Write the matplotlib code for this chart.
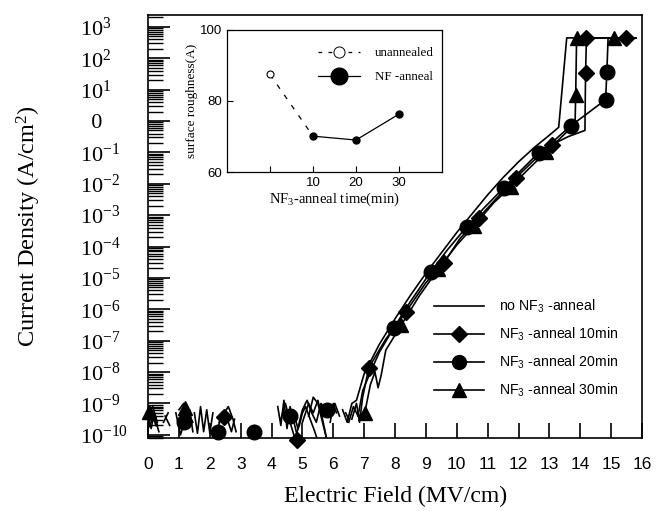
import numpy as np
import matplotlib
matplotlib.use('Agg')
import matplotlib.pyplot as plt
from matplotlib.lines import Line2D
from matplotlib.ticker import FixedLocator, FixedFormatter, LogLocator, NullFormatter

plt.rcParams['font.family'] = 'Liberation Serif'
plt.rcParams['mathtext.fontset'] = 'custom'
plt.rcParams['mathtext.rm'] = 'Liberation Serif'
plt.rcParams['mathtext.default'] = 'regular'

# ---- data (log10 of current density) ----
nan = np.nan
E_none = [0.0, 0.1, 0.2, 0.3, nan, 0.5, 0.65, nan, 1.5, 1.6, 1.7, 1.8, 1.9, 2.0, 2.1, nan,
          4.2, 4.3, 4.4, 4.5, 4.6, 4.7, 4.8, nan, 5.2, 5.35, 5.5, 5.65, 5.8, nan,
          6.3, 6.45, 6.6, 6.75, 7.0, 7.5, 8.0, 8.5, 9.0, 9.5, 10.0, 10.5, 11.0, 11.5,
          12.0, 12.5, 13.0, 13.3, 13.56, 15.8]
J_none = [-9.4, -9.8, -9.3, -9.7, nan, -9.6, -9.3, nan, -9.3, -9.95, -9.1, -9.9, -9.2, -9.95, -9.3, nan,
          -9.1, -9.7, -8.9, -9.8, -9.1, -9.5, -9.9, nan, -9.4, -8.8, -9.0, -9.6, -10.2, nan,
          -9.2, -9.6, -9.0, -8.9, -8.05, -7.1, -6.3, -5.55, -4.85, -4.2, -3.55, -2.95, -2.35, -1.8,
          -1.3, -0.85, -0.45, -0.2, 2.65, 2.65]

E_10 = [0.0, 0.1, 0.25, nan, 2.3, 2.45, 2.6, 2.7, 2.8, nan, 4.3, 4.45, 4.6, 4.75, 4.9, 5.0, 5.1,
        5.25, 5.4, 5.5, nan, 5.9, 6.0, 6.1, nan, 6.6, 6.75, 6.85, 6.95, 7.15, 7.7, 8.35, 9.0,
        9.58, 10.1, 10.71, 11.3, 11.91, 12.5, 13.07, 13.6, 14.15, 14.17, 14.2, 15.8]
J_10 = [-9.6, -9.2, -9.7, nan, -9.6, -9.3, -9.6, -9.9, -9.5, nan, -9.5, -9.0, -9.6, -10.1, -9.7, -9.3, -9.1,
        -9.5, -9.9, -10.2, nan, -9.6, -9.0, -9.3, nan, -9.5, -9.0, -9.6, -8.8, -7.86, -6.95, -6.08, -5.15,
        -4.52, -3.75, -3.08, -2.45, -1.81, -1.25, -0.76, -0.5, -0.3, 1.54, 2.65, 2.65]

E_20 = [0.0, 0.2, 0.35, nan, 0.9, 1.05, 1.2, 1.35, 1.45, nan, 2.2, 2.4, 2.6, 2.75, 2.85, nan,
        3.3, 3.45, 3.55, nan, 4.4, 4.55, 4.7, 4.85, 5.0, 5.15, 5.3, 5.45, 5.6, 5.75, 5.9, 6.05, 6.2, nan,
        6.5, 6.65, 6.8, 6.95, 7.2, 7.5, 7.96, 8.5, 9.16, 9.7, 10.32, 10.9, 11.52, 12.1, 12.65,
        13.2, 13.69, 14.2, 14.82, 14.86, 14.9, 15.8]
J_20 = [-9.8, -9.4, -9.9, nan, -9.3, -10.0, -9.5, -9.2, -9.9, nan, -9.9, -9.4, -9.1, -9.5, -9.9, nan,
        -9.9, -9.7, -9.9, nan, -9.3, -9.5, -9.2, -9.8, -9.2, -8.9, -9.3, -9.6, -9.0, -9.2, -9.3, -9.0, -9.4, nan,
        -9.6, -9.1, -9.4, -8.6, -8.0, -7.35, -6.59, -5.75, -4.8, -4.1, -3.37, -2.75, -2.13, -1.55, -1.01,
        -0.58, -0.15, 0.22, 0.68, 1.57, 2.65, 2.65]

E_30 = [0.0, 0.15, 0.3, nan, 0.55, 0.7, nan, 1.0, 1.15, 1.3, 1.45, nan, 5.0, 5.2, 5.35, 5.5, 5.65, 5.8, nan,
        6.4, 6.5, nan, 6.8, 7.02, 7.2, 7.35, 7.45, 7.55, 7.7, 8.2, 8.8, 9.4, 10.0, 10.55, 11.2, 11.75,
        12.3, 12.9, 13.4, 13.83, 13.85, 13.88, 15.8]
J_30 = [-9.3, -9.1, -9.6, nan, -9.4, -9.7, nan, -9.2, -9.0, -9.3, -9.6, nan, -9.6, -9.0, -9.3, -8.9, -9.5, -10.2, nan,
        -9.3, -9.5, nan, -9.4, -9.29, -8.4, -8.0, -8.5, -8.1, -7.3, -6.5, -5.55, -4.72, -3.95, -3.35, -2.6, -2.1,
        -1.55, -0.98, -0.5, -0.1, 0.83, 2.65, 2.65]

# marker positions
Em_10 = [2.46, 4.82, 7.15, 8.35, 9.58, 10.71, 11.91, 13.07, 14.17, 14.2, 15.47]
Jm_10 = [-9.42, -10.15, -7.86, -6.08, -4.52, -3.08, -1.81, -0.76, 1.54, 2.65, 2.65]
Em_20 = [1.17, 2.27, 3.43, 4.6, 5.8, 7.96, 9.16, 10.32, 11.52, 12.65, 13.69, 14.82, 14.86]
Jm_20 = [-9.6, -9.92, -9.9, -9.39, -9.2, -6.59, -4.8, -3.37, -2.13, -1.01, -0.15, 0.68, 1.57]
Em_30 = [0.03, 1.2, 7.02, 8.2, 9.4, 10.55, 11.75, 12.9, 13.85, 13.88, 15.08]
Jm_30 = [-9.26, -9.13, -9.29, -6.5, -4.72, -3.35, -2.1, -0.98, 0.83, 2.65, 2.65]

# inset data
t_unann = [0]
r_unann = [87.5]
t_anneal = [10, 20, 30]
r_anneal = [70.1, 69.0, 76.3]

fig = plt.figure(figsize=(6.67, 5.11), dpi=100)
ax = fig.add_axes([0.222, 0.1429, 0.7406, 0.8278])

lw = 1.2
ax.plot(E_none, 10 ** np.array(J_none), color='black', lw=lw)
ax.plot(E_30, 10 ** np.array(J_30), color='black', lw=lw)
ax.plot(E_20, 10 ** np.array(J_20), color='black', lw=lw)
ax.plot(E_10, 10 ** np.array(J_10), color='black', lw=lw)
ax.plot(Em_30, 10 ** np.array(Jm_30), ls='none', marker='^', ms=10, color='black', clip_on=False)
ax.plot(Em_20, 10 ** np.array(Jm_20), ls='none', marker='o', ms=10.5, color='black', clip_on=False)
ax.plot(Em_10, 10 ** np.array(Jm_10), ls='none', marker='D', ms=8, color='black', clip_on=False)

ax.set_yscale('log')
ax.set_xlim(0, 16)
ax.set_ylim(10 ** -10.1, 10 ** 3.38)

ax.set_xticks(range(0, 17))
ax.tick_params(axis='x', direction='in', length=11, width=1.2, top=False,
               labelsize=12.5, labelfontfamily='Liberation Sans', pad=14)

decades = list(range(-10, 4))
ylabels = ['  0' if d == 0 else r'$10^{%d}$' % d for d in decades]
ax.yaxis.set_major_locator(FixedLocator([10.0 ** d for d in decades]))
ax.yaxis.set_major_formatter(FixedFormatter(ylabels))
ax.yaxis.set_minor_locator(LogLocator(base=10, subs=np.arange(2, 10), numticks=40))
ax.yaxis.set_minor_formatter(NullFormatter())
ax.tick_params(axis='y', which='major', direction='in', length=16, width=1.2, right=False,
               labelsize=16, pad=49)
ax.tick_params(axis='y', which='minor', direction='in', length=11, width=1.0, right=False)
for lab in ax.get_yticklabels():
    lab.set_horizontalalignment('left')
for s in ax.spines.values():
    s.set_linewidth(1.2)

ax.set_xlabel('Electric Field (MV/cm)', fontsize=17, labelpad=10)
ax.set_ylabel('Current Density (A/cm$^2$)', fontsize=17.5)
ax.yaxis.set_label_coords(-0.212, 0.5)

handles = [
    Line2D([], [], color='black', lw=lw),
    Line2D([], [], color='black', lw=lw, marker='D', ms=8),
    Line2D([], [], color='black', lw=lw, marker='o', ms=10),
    Line2D([], [], color='black', lw=lw, marker='^', ms=10),
]
labels = ['no NF$_3$ -anneal', 'NF$_3$ -anneal 10min', 'NF$_3$ -anneal 20min', 'NF$_3$ -anneal 30min']
fig.legend(handles, labels, loc='upper left', bbox_to_anchor=(434 / 667, 1 - 298 / 511),
           frameon=False, prop={'family': 'Liberation Sans', 'size': 10.2},
           handlelength=3.5, handletextpad=1.1, labelspacing=0.74, borderpad=0, borderaxespad=0)

# inset
ins = fig.add_axes([0.3403, 0.6634, 0.3223, 0.2779])
ins.plot([t_unann[0], t_anneal[0]], [r_unann[0], r_anneal[0]], color='black', ls=(0, (4, 6)), lw=0.9)
ins.plot(t_anneal, r_anneal, color='black', lw=0.9, marker='o', ms=5)
ins.plot(t_unann, r_unann, ls='none', marker='o', ms=5, mfc='white', mec='black', mew=0.8)
ins.set_xlim(-10, 40)
ins.set_ylim(60, 100)
ins.set_xticks([0, 10, 20, 30])
ins.set_xticklabels(['', '10', '20', '30'])
ins.set_yticks([60, 80, 100])
ins.tick_params(direction='in', length=4, width=0.8, labelsize=9.5,
                labelfontfamily='Liberation Sans')
for s in ins.spines.values():
    s.set_linewidth(0.9)
ins.set_xlabel('NF$_3$-anneal time(min)', fontsize=10.5, labelpad=1)
ins.set_ylabel('surface roughness(A)', fontsize=9.5, labelpad=1)
ih = [
    Line2D([], [], color='black', ls=(0, (3, 5)), lw=0.9, marker='o', ms=8, mfc='white', mew=0.7),
    Line2D([], [], color='black', lw=0.9, marker='o', ms=12),
]
ins.legend(ih, ['unannealed', 'NF -anneal'], loc='upper right', frameon=False, fontsize=9.4,
           handlelength=3.2, handletextpad=1.1, labelspacing=0.9, borderaxespad=0.0,
           bbox_to_anchor=(0.985, 0.915))

fig.savefig('out.png', dpi=100)
